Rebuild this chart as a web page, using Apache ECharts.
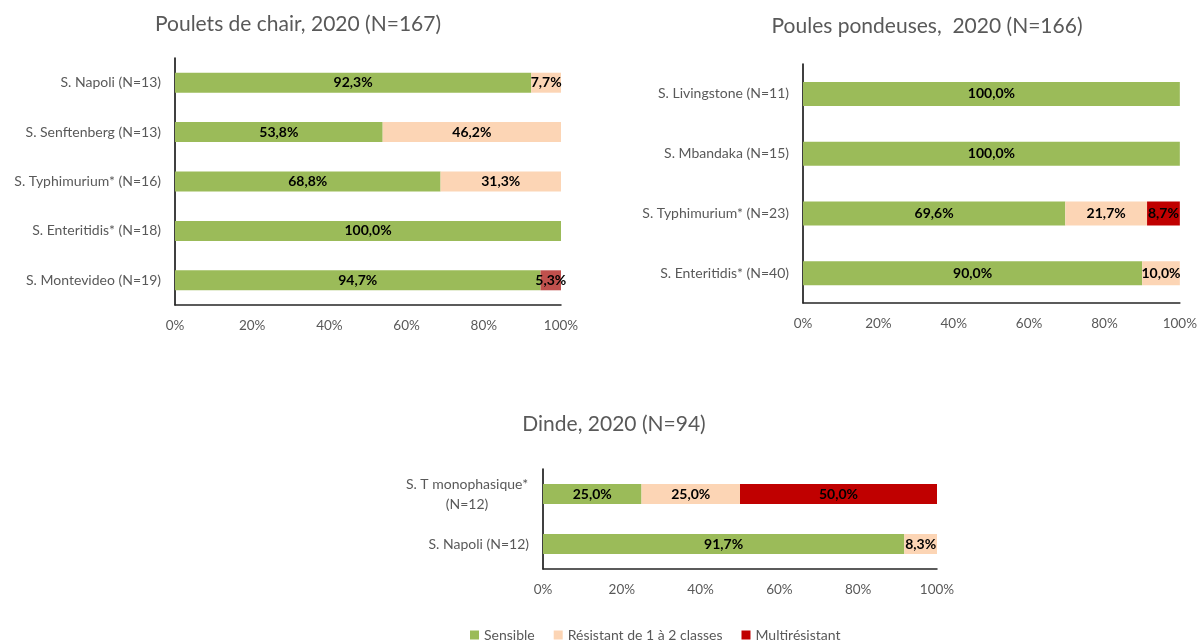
<!DOCTYPE html>
<html><head><meta charset="utf-8">
<script src="https://cdn.jsdelivr.net/npm/echarts@6/dist/echarts.min.js"></script>
<style>html,body{margin:0;padding:0;background:#fff}#c{width:1200px;height:642px}</style>
</head><body><div id="c"></div>
<script>
// ---- data ----
const seriesNames = ['Sensible', 'Résistant de 1 à 2 classes', 'Multirésistant'];
const xTicks = [0, 20, 40, 60, 80, 100];

const titleBroilers = 'Poulets de chair, 2020 (N=167)';
const catBroilers = ['S. Napoli (N=13)', 'S. Senftenberg (N=13)', 'S. Typhimurium* (N=16)', 'S. Enteritidis* (N=18)', 'S. Montevideo (N=19)'];
const sensBroilers = [92.3, 53.8, 68.8, 100.0, 94.7];
const resBroilers = [7.7, 46.2, 31.3, 0, 0];
const multiBroilers = [0, 0, 0, 0, 5.3];

const titleLayers = 'Poules pondeuses,  2020 (N=166)';
const catLayers = ['S. Livingstone (N=11)', 'S. Mbandaka (N=15)', 'S. Typhimurium* (N=23)', 'S. Enteritidis* (N=40)'];
const sensLayers = [100.0, 100.0, 69.6, 90.0];
const resLayers = [0, 0, 21.7, 10.0];
const multiLayers = [0, 0, 8.7, 0];

const titleTurkey = 'Dinde, 2020 (N=94)';
const catTurkey = ['S. T monophasique*\n(N=12)', 'S. Napoli (N=12)'];
const sensTurkey = [25.0, 91.7];
const resTurkey = [25.0, 8.3];
const multiTurkey = [50.0, 0];

// ---- styling ----
const colors = ['#9BBB59', '#FCD5B5', '#C00000'];
const FONT = 'Lato, "Liberation Sans", sans-serif';
const grey = '#595959';
// the reference draws the Montevideo multi-resistant segment in a lighter red
const altRed = { 0: { 4: '#C0504D' } };

const panels = [
  { title: titleBroilers, cats: catBroilers, vals: [sensBroilers, resBroilers, multiBroilers],
    grid: { left: 175, right: 639, top: 58, height: 247 }, titlePos: { left: 293, top: 9 }, barWidth: 20 },
  { title: titleLayers, cats: catLayers, vals: [sensLayers, resLayers, multiLayers],
    grid: { left: 803, right: 19, top: 64, height: 239 }, titlePos: { left: 922, top: 11 }, barWidth: 24 },
  { title: titleTurkey, cats: catTurkey, vals: [sensTurkey, resTurkey, multiTurkey],
    grid: { left: 543, right: 263, top: 469, height: 100 }, titlePos: { left: 609, top: 409 }, barWidth: 20 }
];

const fmt = v => (v === 0 ? '' : v.toFixed(1).replace('.', ',') + '%');
// multi-line category labels: lines centred on each other, block right-aligned
const catFmt = v => v.indexOf('\n') < 0 ? v : v.split('\n').map(s => '{m|' + s + '}').join('\n');

const option = {
  animation: false,
  textStyle: { fontFamily: FONT },
  title: panels.map(p => ({
    text: p.title, left: p.titlePos.left, top: p.titlePos.top, textAlign: 'center',
    textStyle: { fontFamily: FONT, fontSize: 21, fontWeight: 'normal', color: grey }
  })),
  legend: {
    data: seriesNames, top: 623, left: 465, itemGap: 19,
    icon: 'rect', itemWidth: 9, itemHeight: 9,
    textStyle: { fontFamily: FONT, fontSize: 14, color: grey }
  },
  grid: panels.map(p => Object.assign({ containLabel: false }, p.grid)),
  xAxis: panels.map((p, i) => ({
    type: 'value', gridIndex: i, min: xTicks[0], max: xTicks[xTicks.length - 1], interval: xTicks[1] - xTicks[0],
    axisLine: { show: true, lineStyle: { color: '#262626', width: 1.5 } },
    axisTick: { show: false }, splitLine: { show: false },
    axisLabel: { formatter: '{value}%', color: grey, fontSize: 13.5, fontFamily: FONT, margin: 14 }
  })),
  yAxis: panels.map((p, i) => ({
    type: 'category', gridIndex: i, data: p.cats, inverse: true,
    axisLine: { show: true, lineStyle: { color: '#000', width: 1.5 } },
    axisTick: { show: false },
    axisLabel: {
      color: grey, fontSize: 14, fontFamily: FONT, margin: 14, align: 'right', lineHeight: 20,
      formatter: catFmt,
      rich: { m: { width: 124, align: 'center', color: grey, fontSize: 14, fontFamily: FONT, lineHeight: 20 } }
    }
  })),
  series: []
};

panels.forEach((p, pi) => {
  seriesNames.forEach((name, si) => {
    option.series.push({
      type: 'bar', name, stack: 'p' + pi, xAxisIndex: pi, yAxisIndex: pi,
      barWidth: p.barWidth,
      itemStyle: { color: colors[si] },
      label: {
        show: true, position: 'inside', formatter: d => fmt(d.value),
        color: '#000', fontWeight: 'bold', fontSize: 14, fontFamily: FONT
      },
      data: p.vals[si].map((v, di) => {
        const c = si === 2 && altRed[pi] && altRed[pi][di];
        return c ? { value: v, itemStyle: { color: c } } : v;
      })
    });
  });
});

const chart = echarts.init(document.getElementById('c'), null, { renderer: 'canvas' });
chart.setOption(option);
</script></body></html>
